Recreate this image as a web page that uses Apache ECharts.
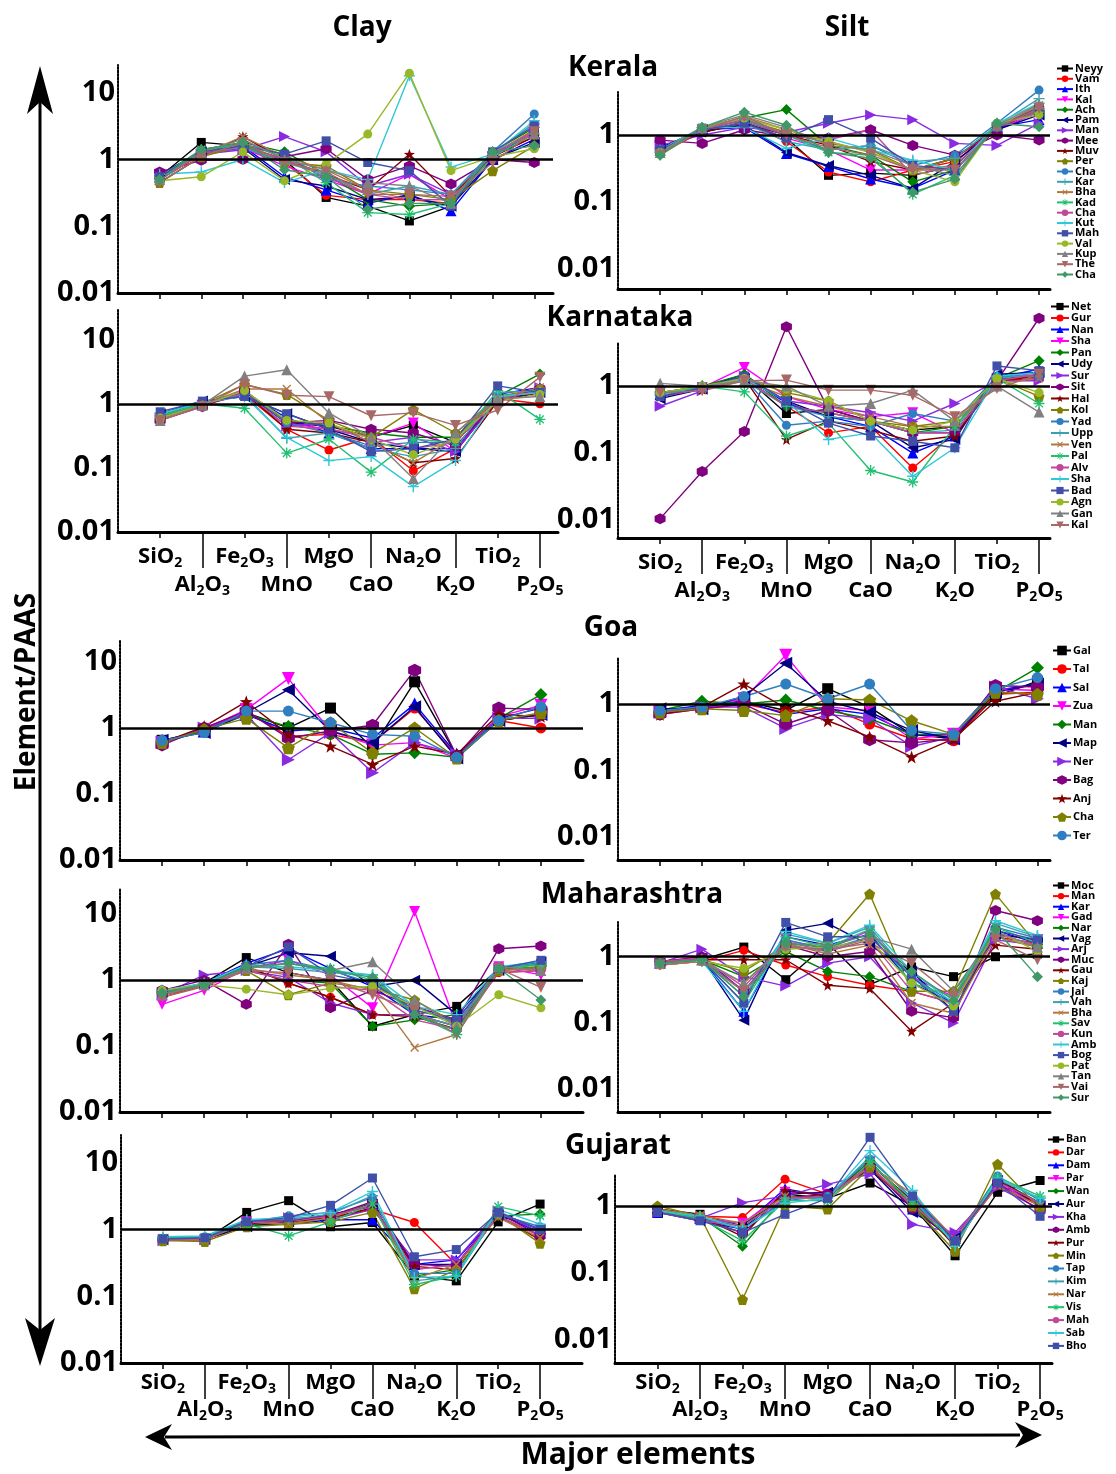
<!DOCTYPE html>
<html><head><meta charset="utf-8">
<script src="https://cdn.jsdelivr.net/npm/echarts@6/dist/echarts.min.js"></script>
<style>html,body{margin:0;padding:0;background:#fff}#c{width:1116px;height:1474px}</style>
</head><body><div id="c"></div>
<script>
// ---------------- DATA ----------------
const ELEMENTS = ['SiO2','Al2O3','Fe2O3','MnO','MgO','CaO','Na2O','K2O','TiO2','P2O5'];
const Y_TICKS = ['0.01','0.1','1','10'];

const keralaNames = ['Neyy','Vam','Ith','Kal','Ach','Pam','Man','Mee','Muv','Per','Cha','Kar','Bha','Kad','Cha','Kut','Mah','Val','Kup','The','Cha'];
const keralaClay = [
 [0.55,1.8,1.6,1.0,0.27,0.2,0.12,0.2,1.2,2.5],
 [0.5,1.2,1.5,0.9,0.29,0.25,0.25,0.22,1.1,2.2],
 [0.55,1.3,1.6,0.55,0.35,0.22,0.3,0.17,1.0,2.0],
 [0.5,1.2,1.5,0.8,0.5,0.3,0.6,0.25,1.1,2.8],
 [0.55,1.4,1.8,1.3,0.6,0.25,0.2,0.22,1.3,3.0],
 [0.6,1.3,1.5,0.5,0.4,0.25,0.28,0.2,1.0,1.8],
 [0.6,1.2,1.4,2.2,1.3,0.4,0.6,0.3,1.1,2.5],
 [0.65,0.97,1.0,1.1,1.45,0.5,0.8,0.43,1.0,0.9],
 [0.45,1.1,2.2,1.0,0.6,0.35,1.2,0.28,1.1,2.2],
 [0.45,1.1,1.6,0.9,0.8,0.35,0.3,0.25,0.68,1.6],
 [0.55,1.3,1.7,1.2,0.5,0.4,0.35,0.3,1.3,4.8],
 [0.5,1.3,1.5,0.9,0.6,0.3,0.4,0.3,1.2,3.5],
 [0.5,1.2,2.2,1.1,0.7,0.35,0.25,0.25,1.2,2.8],
 [0.55,1.4,1.7,1.1,0.45,0.16,0.15,0.22,1.1,2.4],
 [0.5,1.2,1.6,1.0,0.55,0.3,0.25,0.25,1.2,2.6],
 [0.6,0.65,1.0,0.45,0.7,0.5,18,0.77,1.2,3.8],
 [0.55,1.3,1.6,1.2,1.9,0.9,0.68,0.2,1.3,3.2],
 [0.48,0.55,1.3,0.48,0.85,2.4,19.6,0.68,1.1,1.45],
 [0.5,1.3,2.0,1.0,0.7,0.45,0.4,0.22,1.3,2.4],
 [0.45,1.1,1.8,0.9,0.65,0.3,0.3,0.28,0.9,2.6],
 [0.5,1.4,1.8,0.7,0.55,0.18,0.22,0.22,1.3,1.6]
];
const keralaSilt = [
 [0.6,1.1,1.5,0.9,0.25,0.27,0.25,0.35,1.2,2.5],
 [0.55,1.1,1.6,0.8,0.28,0.2,0.3,0.4,1.3,2.3],
 [0.6,1.2,1.3,0.53,0.34,0.22,0.16,0.3,1.3,1.7],
 [0.6,1.2,1.5,0.9,0.6,0.3,0.3,0.45,1.2,2.2],
 [0.55,1.3,1.8,2.4,0.7,0.5,0.2,0.3,1.3,2.5],
 [0.65,1.2,1.4,0.55,0.35,0.25,0.16,0.4,1.2,2.0],
 [0.7,1.0,1.3,1.1,1.5,2.0,1.7,0.75,0.7,1.5],
 [0.84,0.75,1.2,0.95,0.9,1.2,0.7,0.5,1.0,0.84],
 [0.6,1.1,1.5,1.0,0.7,0.4,0.3,0.45,1.3,2.6],
 [0.55,1.2,1.7,1.1,0.75,0.6,0.3,0.45,1.4,2.4],
 [0.6,1.3,1.6,1.0,0.6,0.7,0.35,0.5,1.5,4.7],
 [0.55,1.2,1.5,0.8,0.6,0.7,0.4,0.45,1.4,3.5],
 [0.55,1.2,1.9,1.2,0.8,0.55,0.3,0.35,1.3,2.8],
 [0.55,1.3,1.8,1.0,0.55,0.5,0.13,0.25,1.4,2.2],
 [0.55,1.2,1.7,1.0,0.85,1.2,0.25,0.35,1.3,2.3],
 [0.6,1.3,1.3,0.63,0.9,0.6,0.42,0.3,1.5,3.0],
 [0.6,1.2,1.5,0.9,1.7,0.9,0.35,0.3,1.3,2.6],
 [0.55,1.3,1.8,1.2,0.8,0.55,0.3,0.2,1.5,2.0],
 [0.55,1.3,2.0,1.3,0.7,0.6,0.35,0.25,1.4,2.9],
 [0.5,1.2,1.9,1.0,0.65,0.5,0.3,0.3,1.3,2.5],
 [0.5,1.3,2.2,1.4,0.55,0.45,0.14,0.22,1.5,1.33]
];

const karnatakaNames = ['Net','Gur','Nan','Sha','Pan','Udy','Sur','Sit','Hal','Kol','Yad','Upp','Ven','Pal','Alv','Sha','Bad','Agn','Gan','Kal'];
const karnatakaClay = [
 [0.6,0.95,1.5,0.5,0.45,0.3,0.46,0.25,1.3,1.6],
 [0.6,0.95,1.4,0.4,0.19,0.3,0.09,0.2,1.2,1.0],
 [0.65,1.0,1.5,0.6,0.35,0.2,0.2,0.2,1.4,1.8],
 [0.6,0.95,1.6,0.5,0.4,0.3,0.5,0.18,1.2,1.6],
 [0.65,1.0,1.5,0.55,0.45,0.35,0.3,0.3,1.3,2.9],
 [0.7,1.1,1.3,0.7,0.4,0.25,0.2,0.18,1.2,1.5],
 [0.6,0.95,1.4,0.45,0.5,0.25,0.3,0.18,1.2,1.8],
 [0.55,0.9,1.6,0.5,0.55,0.4,0.35,0.22,1.1,1.7],
 [0.6,0.95,1.5,0.4,0.35,0.25,0.12,0.14,1.1,1.5],
 [0.6,1.0,2.0,1.4,0.55,0.3,0.81,0.35,1.3,1.7],
 [0.65,1.0,1.6,0.5,0.35,0.22,0.25,0.25,1.3,1.5],
 [0.7,1.05,1.4,0.29,0.35,0.2,0.15,0.2,1.5,1.6],
 [0.6,0.95,1.7,1.7,0.5,0.25,0.12,0.3,1.2,1.8],
 [0.65,1.0,0.85,0.17,0.28,0.086,0.28,0.25,1.6,0.57],
 [0.6,0.95,1.5,0.45,0.4,0.3,0.2,0.25,1.2,1.6],
 [0.7,1.05,1.3,0.3,0.13,0.15,0.051,0.13,1.3,1.5],
 [0.75,1.1,1.3,0.7,0.4,0.18,0.2,0.28,1.9,1.5],
 [0.6,0.95,1.6,0.55,0.5,0.28,0.16,0.28,1.1,1.4],
 [0.55,0.95,2.7,3.4,0.72,0.3,0.068,0.35,1.2,1.3],
 [0.55,0.9,2.0,1.36,1.29,0.65,0.72,0.46,0.8,2.6]
];
const karnatakaSilt = [
 [0.8,0.95,1.4,0.39,0.45,0.3,0.22,0.25,1.3,1.4],
 [0.7,0.9,1.3,0.5,0.2,0.25,0.06,0.2,1.2,1.3],
 [0.75,0.95,1.5,0.55,0.35,0.25,0.1,0.18,1.3,1.8],
 [0.7,0.95,1.9,0.7,0.45,0.35,0.4,0.2,1.3,1.6],
 [0.8,1.0,1.5,0.5,0.4,0.3,0.2,0.25,1.3,2.4],
 [0.65,0.9,1.3,0.6,0.35,0.3,0.12,0.16,1.5,1.6],
 [0.5,0.85,1.4,0.6,0.5,0.4,0.3,0.55,1.2,1.2],
 [0.0105,0.053,0.21,7.7,0.45,0.3,0.2,0.2,1.2,10.3],
 [0.7,0.9,1.3,0.16,0.3,0.22,0.15,0.18,1.2,1.4],
 [0.8,1.0,1.3,0.8,0.6,0.3,0.25,0.3,1.3,0.7],
 [0.7,0.95,1.3,0.26,0.3,0.25,0.39,0.3,1.4,1.4],
 [0.75,1.0,1.2,0.5,0.35,0.3,0.2,0.22,1.3,1.5],
 [0.75,0.9,1.2,0.7,0.5,0.35,0.25,0.25,1.1,1.3],
 [0.8,1.0,0.82,0.18,0.28,0.055,0.037,0.25,1.3,0.55],
 [0.7,0.9,1.3,0.5,0.4,0.3,0.2,0.2,1.2,1.5],
 [0.75,0.95,1.3,0.6,0.16,0.2,0.045,0.12,1.4,1.6],
 [0.7,0.95,1.4,0.6,0.28,0.18,0.15,0.12,2.0,1.7],
 [0.8,1.0,1.3,0.9,0.6,0.3,0.22,0.3,1.3,0.8],
 [1.1,1.0,1.2,1.0,0.5,0.55,0.87,0.3,1.0,0.41],
 [0.8,0.85,1.2,1.23,0.87,0.87,0.73,0.35,0.92,1.5]
];

const goaNames = ['Gal','Tal','Sal','Zua','Man','Map','Ner','Bag','Anj','Cha','Ter'];
const goaClay = [
 [0.65,0.9,1.7,1.0,2.0,0.5,5.0,0.38,1.3,1.6],
 [0.6,0.95,1.8,0.75,0.8,0.6,2.0,0.38,1.3,1.0],
 [0.65,0.9,1.6,0.9,1.0,0.7,2.3,0.4,1.4,2.0],
 [0.6,0.95,1.9,5.6,0.9,0.55,0.6,0.35,1.5,2.2],
 [0.6,0.9,1.6,1.05,0.8,0.4,0.42,0.36,1.4,3.2],
 [0.65,0.85,1.7,3.8,0.9,0.6,2.1,0.35,1.3,1.6],
 [0.6,1.0,1.6,0.33,0.85,0.21,0.6,0.4,1.4,1.4],
 [0.55,1.0,1.8,0.7,0.9,1.1,7.5,0.38,2.0,1.9],
 [0.6,1.05,2.5,0.8,0.53,0.28,0.53,0.4,1.6,1.5],
 [0.6,0.95,1.4,0.5,1.2,0.42,1.0,0.35,1.3,1.7],
 [0.65,0.85,1.8,1.8,1.2,0.8,0.75,0.36,1.3,2.1]
];
const goaSilt = [
 [0.8,0.9,1.1,0.8,1.7,0.9,0.35,0.3,1.3,2.2],
 [0.7,0.85,1.0,0.75,0.9,0.5,0.3,0.28,1.4,1.5],
 [0.8,0.95,1.1,0.7,0.85,0.7,0.35,0.32,1.6,2.0],
 [0.75,0.9,1.2,5.4,0.9,0.8,0.3,0.35,1.7,1.6],
 [0.8,1.1,1.0,1.15,0.8,0.6,0.35,0.35,1.5,3.5],
 [0.85,0.85,1.3,4.1,1.1,0.75,0.4,0.3,1.5,2.0],
 [0.75,0.9,0.9,0.43,0.7,0.6,0.23,0.32,1.8,1.2],
 [0.7,0.85,1.0,0.5,0.8,0.29,0.26,0.3,1.9,1.8],
 [0.7,0.9,2.0,0.87,0.56,0.32,0.16,0.3,1.1,1.5],
 [0.75,0.85,0.8,0.67,1.2,1.15,0.56,0.35,1.5,1.4],
 [0.8,0.9,1.3,2.0,1.2,2.0,0.4,0.35,1.7,2.5]
];

const maharashtraNames = ['Moc','Man','Kar','Gad','Nar','Vag','Arj','Muc','Gau','Kaj','Jai','Vah','Bha','Sav','Kun','Amb','Bog','Pat','Tan','Vai','Sur'];
const maharashtraClay = [
 [0.6,0.9,2.2,1.3,1.0,0.2,0.3,0.4,1.5,1.8],
 [0.55,0.85,1.6,0.9,0.55,0.3,0.3,0.2,1.3,1.4],
 [0.6,0.9,1.8,3.0,1.5,0.8,0.3,0.25,1.5,1.8],
 [0.43,0.7,1.5,2.0,1.2,0.38,11,0.2,1.6,1.2],
 [0.6,0.85,1.4,1.0,0.9,0.2,0.25,0.3,1.4,1.6],
 [0.65,0.9,1.6,2.6,2.3,0.8,1.0,0.3,1.4,1.9],
 [0.6,1.2,1.4,1.1,0.45,0.3,0.3,0.2,1.5,1.5],
 [0.7,1.0,0.43,3.5,0.38,0.7,0.4,0.25,3.0,3.3],
 [0.6,0.85,1.6,0.9,0.55,0.3,0.28,0.18,1.5,1.5],
 [0.6,0.85,1.4,0.6,0.9,0.75,0.5,0.22,1.4,1.6],
 [0.65,0.9,1.7,2.0,1.4,0.9,0.4,0.22,1.5,1.8],
 [0.65,0.85,1.6,1.5,1.3,1.2,0.3,0.2,1.5,1.8],
 [0.6,0.9,1.5,1.2,1.0,0.7,0.095,0.15,1.4,1.5],
 [0.65,0.9,1.5,1.8,1.5,1.0,0.3,0.15,1.5,1.7],
 [0.6,0.85,1.4,1.0,0.8,0.7,0.25,0.18,1.3,1.4],
 [0.7,0.9,1.7,1.6,1.4,1.2,0.4,0.3,1.6,1.9],
 [0.65,0.85,1.6,3.2,1.2,0.9,0.35,0.25,1.5,2.0],
 [0.7,0.85,0.73,0.6,0.75,0.8,0.4,0.2,0.6,0.38],
 [0.6,0.85,1.5,1.8,1.4,1.9,0.5,0.2,1.6,1.4],
 [0.55,0.8,1.4,1.3,1.0,0.6,0.35,0.15,1.5,0.78],
 [0.65,0.85,1.6,1.8,1.4,1.1,0.3,0.17,1.5,0.5]
];
const maharashtraSilt = [
 [0.8,0.9,1.4,0.45,1.6,0.38,0.7,0.5,1.0,1.1],
 [0.75,0.85,1.25,0.75,0.5,0.37,0.3,0.2,2.0,1.6],
 [0.8,0.9,0.15,2.0,1.5,2.2,0.4,0.2,2.5,1.6],
 [0.8,0.9,0.3,1.8,1.3,2.5,0.5,0.25,2.2,1.8],
 [0.85,0.9,0.5,1.2,0.6,0.5,0.3,0.3,2.0,1.4],
 [0.8,0.95,0.11,2.5,3.2,1.5,0.6,0.15,2.2,1.8],
 [0.8,1.3,0.5,0.36,0.8,1.0,0.2,0.1,1.8,1.5],
 [0.85,1.0,0.3,1.5,1.0,1.2,0.15,0.12,5.0,3.5],
 [0.8,0.9,0.9,0.9,0.37,0.33,0.075,0.2,1.5,1.3],
 [0.85,0.9,0.6,1.5,1.6,8.9,0.3,0.3,8.9,1.5],
 [0.8,0.9,0.3,1.8,1.3,2.0,0.5,0.2,2.8,1.9],
 [0.8,0.9,0.25,2.2,1.6,2.8,0.5,0.18,3.2,2.0],
 [0.75,0.85,0.4,1.6,1.1,1.5,0.2,0.14,2.0,1.4],
 [0.8,0.9,0.2,2.0,1.4,2.6,0.4,0.25,2.8,1.6],
 [0.85,0.95,0.35,1.7,1.2,1.8,0.3,0.2,2.2,1.5],
 [0.8,0.85,0.15,2.4,1.6,3.0,0.6,0.2,3.5,2.1],
 [0.8,0.9,0.2,3.3,2.0,2.0,0.5,0.15,2.5,1.8],
 [0.75,0.85,0.67,1.3,1.4,1.8,0.4,0.18,2.5,1.2],
 [0.8,0.9,0.4,1.5,1.2,2.0,1.3,0.3,2.4,1.4],
 [0.75,0.85,0.3,1.4,1.3,1.6,0.8,0.25,1.8,0.9],
 [0.8,0.9,0.25,1.6,1.4,2.2,0.6,0.22,2.6,0.5]
];

const gujaratNames = ['Ban','Dar','Dam','Par','Wan','Aur','Kha','Amb','Pur','Min','Tap','Kim','Nar','Vis','Mah','Sab','Bho'];
const gujaratClay = [
 [0.72,0.7,1.8,2.7,1.1,1.27,0.2,0.17,1.3,2.4],
 [0.7,0.75,1.3,1.3,1.5,2.0,1.27,0.3,1.6,0.8],
 [0.75,0.72,1.2,1.2,1.4,1.4,0.3,0.35,1.7,0.9],
 [0.7,0.7,1.3,1.4,1.6,2.3,0.25,0.3,1.8,1.0],
 [0.72,0.75,1.2,1.2,1.5,2.5,0.2,0.25,1.6,1.7],
 [0.7,0.72,1.1,1.3,1.7,2.2,0.3,0.3,1.7,1.0],
 [0.68,0.7,1.3,1.5,1.4,2.0,0.35,0.35,1.9,0.9],
 [0.72,0.72,1.2,1.4,1.6,2.6,0.3,0.28,1.8,0.8],
 [0.7,0.72,1.4,1.3,1.5,2.1,0.28,0.25,1.6,0.7],
 [0.68,0.66,1.1,1.2,1.3,1.8,0.13,0.25,1.7,0.62],
 [0.74,0.78,1.3,1.6,1.8,3.0,0.22,0.22,1.7,1.1],
 [0.75,0.76,1.4,1.4,1.7,3.2,0.17,0.2,1.8,1.0],
 [0.7,0.7,1.3,1.2,1.5,2.4,0.18,0.3,1.5,0.75],
 [0.75,0.75,1.2,0.8,1.3,2.4,0.15,0.2,2.2,1.6],
 [0.7,0.73,1.3,1.3,1.6,2.3,0.25,0.3,1.6,0.8],
 [0.78,0.8,1.4,1.5,1.8,3.7,0.19,0.2,2.0,1.2],
 [0.72,0.75,1.3,1.5,2.3,5.9,0.39,0.5,1.8,1.0]
];
const gujaratSilt = [
 [0.9,0.75,0.5,1.5,1.3,2.2,1.0,0.18,1.6,2.4],
 [0.85,0.7,0.67,2.5,1.5,3.5,1.0,0.3,2.0,1.0],
 [0.8,0.65,0.5,1.8,1.4,4.0,0.9,0.3,2.4,1.1],
 [0.85,0.65,0.55,1.6,1.5,4.5,1.1,0.35,2.2,1.0],
 [0.9,0.7,0.25,1.4,1.3,4.7,1.0,0.28,2.5,1.1],
 [0.8,0.6,0.45,1.5,1.6,3.5,0.8,0.35,2.4,1.0],
 [0.8,0.65,1.12,1.4,2.1,3.0,0.53,0.4,1.9,0.9],
 [0.85,0.65,0.4,1.3,1.5,3.8,0.9,0.3,2.2,0.85],
 [0.9,0.7,0.35,1.7,1.4,4.2,1.2,0.25,2.6,1.0],
 [1.0,0.7,0.04,1.0,0.9,3.8,1.0,0.21,4.2,0.9],
 [0.85,0.65,0.45,1.2,1.4,5.0,1.3,0.3,2.8,1.2],
 [0.85,0.68,0.5,1.3,1.3,5.5,1.2,0.3,2.5,1.3],
 [0.9,0.72,0.55,1.4,1.2,4.0,1.5,0.32,2.0,1.0],
 [0.85,0.65,0.3,1.2,1.2,4.5,1.1,0.28,2.7,1.4],
 [0.8,0.6,0.5,1.3,1.4,4.0,1.0,0.35,2.3,1.1],
 [0.85,0.7,0.45,1.1,1.3,6.7,1.7,0.25,2.6,1.3],
 [0.8,0.6,0.4,0.75,1.3,10.6,1.4,0.3,2.2,0.7]
];

// ---------------- STYLE ----------------
const FONT = '"Open Sans", "DejaVu Sans", sans-serif';
const COLORS = ['#000000','#ff0000','#0000ff','#ff00ff','#008000','#000080','#8a2be2','#800080','#800000','#808000',
 '#2f7fc0','#3aa0b0','#b07840','#20c070','#c04898','#30c8d8','#4050a8','#98b828','#808080','#a86868','#409868'];
const P_HEX = 'path://M0,-10L8.66,-5L8.66,5L0,10L-8.66,5L-8.66,-5Z';
const P_STAR = 'path://M0,-10L2.35,-3.24L9.51,-3.09L3.8,1.24L5.88,8.09L0,4L-5.88,8.09L-3.8,1.24L-9.51,-3.09L-2.35,-3.24Z';
const P_PENT = 'path://M0,-10L9.51,-3.09L5.88,8.09L-5.88,8.09L-9.51,-3.09Z';
const P_PLUS = 'path://M-1.3,-10H1.3V-1.3H10V1.3H1.3V10H-1.3V1.3H-10V-1.3H-1.3Z';
const P_AST = 'path://M-1.2,-10H1.2V-1.2H10V1.2H1.2V10H-1.2V1.2H-10V-1.2H-1.2Z M-7.9,-6.2L-6.2,-7.9L7.9,6.2L6.2,7.9Z M6.2,-7.9L7.9,-6.2L-6.2,7.9L-7.9,6.2Z';
const SYMBOLS = [
 ['rect',0],['circle',0],['triangle',0],['triangle',180],['diamond',0],['triangle',90],['triangle',-90],
 [P_HEX,0],[P_STAR,0],[P_PENT,0],['circle',0],[P_PLUS,0],[P_PLUS,45],[P_AST,0],['none',0],
 [P_PLUS,0],['rect',0],['circle',0],['triangle',0],['triangle',180],['diamond',0]
];

const PANELS = [
 {grid:{left:118,top:65,width:435,height:228}, y:[0.01,26], xMax:10.45, labeled:false},
 {grid:{left:618,top:92,width:432,height:197}, y:[0.005,4.4], xMax:10.26, labeled:false},
 {grid:{left:118,top:310,width:440,height:222}, y:[0.01,29], xMax:10.43, labeled:true, m1:12, m2:40},
 {grid:{left:618,top:343,width:432,height:195}, y:[0.0054,4.4], xMax:10.26, labeled:true, m1:12, m2:40},
 {grid:{left:120,top:640,width:463,height:220}, y:[0.01,21.5], xMax:11.0, labeled:false},
 {grid:{left:618,top:657,width:432,height:203}, y:[0.0045,5.1], xMax:10.3, labeled:false},
 {grid:{left:120,top:888,width:463,height:224}, y:[0.01,25], xMax:11.0, labeled:false},
 {grid:{left:618,top:922,width:432,height:190}, y:[0.0045,3.35], xMax:10.3, labeled:false},
 {grid:{left:121,top:1135,width:461,height:228}, y:[0.01,26], xMax:11.0, labeled:true, m1:7, m2:34},
 {grid:{left:615,top:1174,width:437,height:189}, y:[0.0045,3.0], xMax:10.28, labeled:true, m1:7, m2:34}
];
const STATES = [
 {key:'KE', names:keralaNames, clay:keralaClay, silt:keralaSilt, sym:10, lg:{left:1056, top:63, gap:-0.7, w:16, h:8, fs:11}},
 {key:'KA', names:karnatakaNames, clay:karnatakaClay, silt:karnatakaSilt, sym:10, lg:{left:1050, top:301, gap:0.5, w:18, h:9, fs:11}},
 {key:'GO', names:goaNames, clay:goaClay, silt:goaSilt, sym:12, lg:{left:1052, top:645, gap:7.5, w:18, h:12, fs:11}},
 {key:'MA', names:maharashtraNames, clay:maharashtraClay, silt:maharashtraSilt, sym:10, lg:{left:1052, top:880, gap:-0.4, w:16, h:8, fs:11}},
 {key:'GU', names:gujaratNames, clay:gujaratClay, silt:gujaratSilt, sym:10, lg:{left:1047, top:1134, gap:1.9, w:16, h:8, fs:10.5}}
];

function richLabel(name){ return name.replace(/([A-Za-z]+)|(\d+)/g,(m,a,d)=> a?`{m|${a}}`:`{s|${d}}`); }
const RICH = {
  m:{fontSize:22,fontWeight:'bold',fontFamily:FONT,color:'#000',lineHeight:26},
  s:{fontSize:14,fontWeight:'bold',fontFamily:FONT,color:'#000',lineHeight:14,verticalAlign:'bottom'}
};
const allPos = ELEMENTS.map((e,i)=>i+1);
const oddPos = allPos.filter(p=>p%2===1);
const evenPos = allPos.filter(p=>p%2===0);
const labelOf = v => richLabel(ELEMENTS[Math.round(v)-1] || '');
function yFmt(v){ const l=Math.log10(v), r=Math.round(l); return (Math.abs(l-r)<1e-6 && r>=-2 && r<=1)? Y_TICKS[r+2] : ''; }

const grids=[], xAxes=[], yAxes=[], series=[], legends=[];
PANELS.forEach((p,g)=>{
  grids.push(Object.assign({containLabel:false}, p.grid));
  xAxes.push({type:'value', gridIndex:g, min:0, max:p.xMax, position:'bottom',
    axisLine:{show:true, onZero:false, lineStyle:{color:'#000', width:3}},
    axisTick:{show:true, customValues:allPos, length:6, lineStyle:{color:'#000', width:1.5}},
    axisLabel:{show:p.labeled, customValues:oddPos, formatter:labelOf, margin:p.m1||10, rich:RICH},
    splitLine:{show:false}});
  xAxes.push({type:'value', gridIndex:g, min:0, max:p.xMax, position:'bottom', offset:0,
    axisLine:{show:false},
    axisTick:{show:p.labeled, customValues:evenPos, length:36, lineStyle:{color:'#000', width:1.5}},
    axisLabel:{show:p.labeled, customValues:evenPos, formatter:labelOf, margin:p.m2||40, rich:RICH},
    splitLine:{show:false}});
  yAxes.push({type:'log', logBase:10, gridIndex:g, min:p.y[0], max:p.y[1],
    axisLine:{show:true, onZero:false, lineStyle:{color:'#000', width:2, type:[2,1.5]}},
    axisTick:{show:false}, splitLine:{show:false},
    axisLabel:{formatter:yFmt, fontSize:29, fontWeight:'bold', fontFamily:FONT, color:'#000', margin:3}});
});

STATES.forEach((st,s)=>{
  [st.clay, st.silt].forEach((mat,k)=>{
    const g = s*2+k;
    st.names.forEach((n,i)=>{
      const c = COLORS[i], sym = SYMBOLS[i];
      const small = (sym[0]==='rect'||sym[0]==='circle');
      const ser = {type:'line', name: st.key+'|'+i+'|'+n, xAxisIndex:g*2, yAxisIndex:g,
        data: mat[i].map((v,j)=>[j+1, v]),
        symbol: sym[0], symbolRotate: sym[1], symbolSize: small ? st.sym-1 : st.sym+1,
        lineStyle:{color:c, width:1.4}, itemStyle:{color:c}, clip:false, animation:false, z: 2};
      if(i===0){
        ser.markLine = {silent:true, symbol:['none','none'], label:{show:false}, animation:false,
          lineStyle:{color:'#000', width:2.5, type:'solid'}, data:[{yAxis:1}]};
      }
      series.push(ser);
    });
  });
  legends.push({orient:'vertical', left:st.lg.left, top:st.lg.top, padding:0, itemGap:st.lg.gap,
    itemWidth:st.lg.w, itemHeight:st.lg.h, selectedMode:false,
    data: st.names.map((n,i)=>st.key+'|'+i+'|'+n),
    formatter: name => name.split('|')[2],
    textStyle:{fontSize:st.lg.fs, fontWeight:'bold', fontFamily:FONT, color:'#000', lineHeight:10, padding:[0,0,0,-3]}});
});

const T = (text,x,y,size,extra)=>Object.assign({type:'text', x, y, z:100,
  style:{text, font:`bold ${size}px ${FONT}`, fill:'#000', align:'center', verticalAlign:'middle'}}, extra||{});
const graphic = [
  T('Clay',362,28,28), T('Silt',847,28,28),
  T('Kerala',613,68,28), T('Karnataka',620,318,28), T('Goa',611,628,28),
  T('Maharashtra',632,895,28), T('Gujarat',618,1146,28),
  T('Element/PAAS',27,692,28,{rotation:Math.PI/2}),
  T('Major elements',638,1455,30),
  {type:'line', shape:{x1:40,y1:100,x2:40,y2:1335}, style:{stroke:'#000', lineWidth:3}},
  {type:'polygon', shape:{points:[[40,66],[53,114],[40,102],[27,114]]}, style:{fill:'#000'}},
  {type:'polygon', shape:{points:[[40,1366],[55,1318],[40,1330],[25,1318]]}, style:{fill:'#000'}},
  {type:'line', shape:{x1:165,y1:1437,x2:1020,y2:1435}, style:{stroke:'#000', lineWidth:3}},
  {type:'polygon', shape:{points:[[145,1437],[172,1424],[164,1437],[172,1450]]}, style:{fill:'#000'}},
  {type:'polygon', shape:{points:[[1042,1435],[1015,1422],[1023,1435],[1015,1448]]}, style:{fill:'#000'}}
];

const chart = echarts.init(document.getElementById('c'), null, {renderer:'canvas'});
chart.setOption({backgroundColor:'#fff', animation:false, grid:grids, xAxis:xAxes, yAxis:yAxes,
  series, legend:legends, graphic});
</script></body></html>
